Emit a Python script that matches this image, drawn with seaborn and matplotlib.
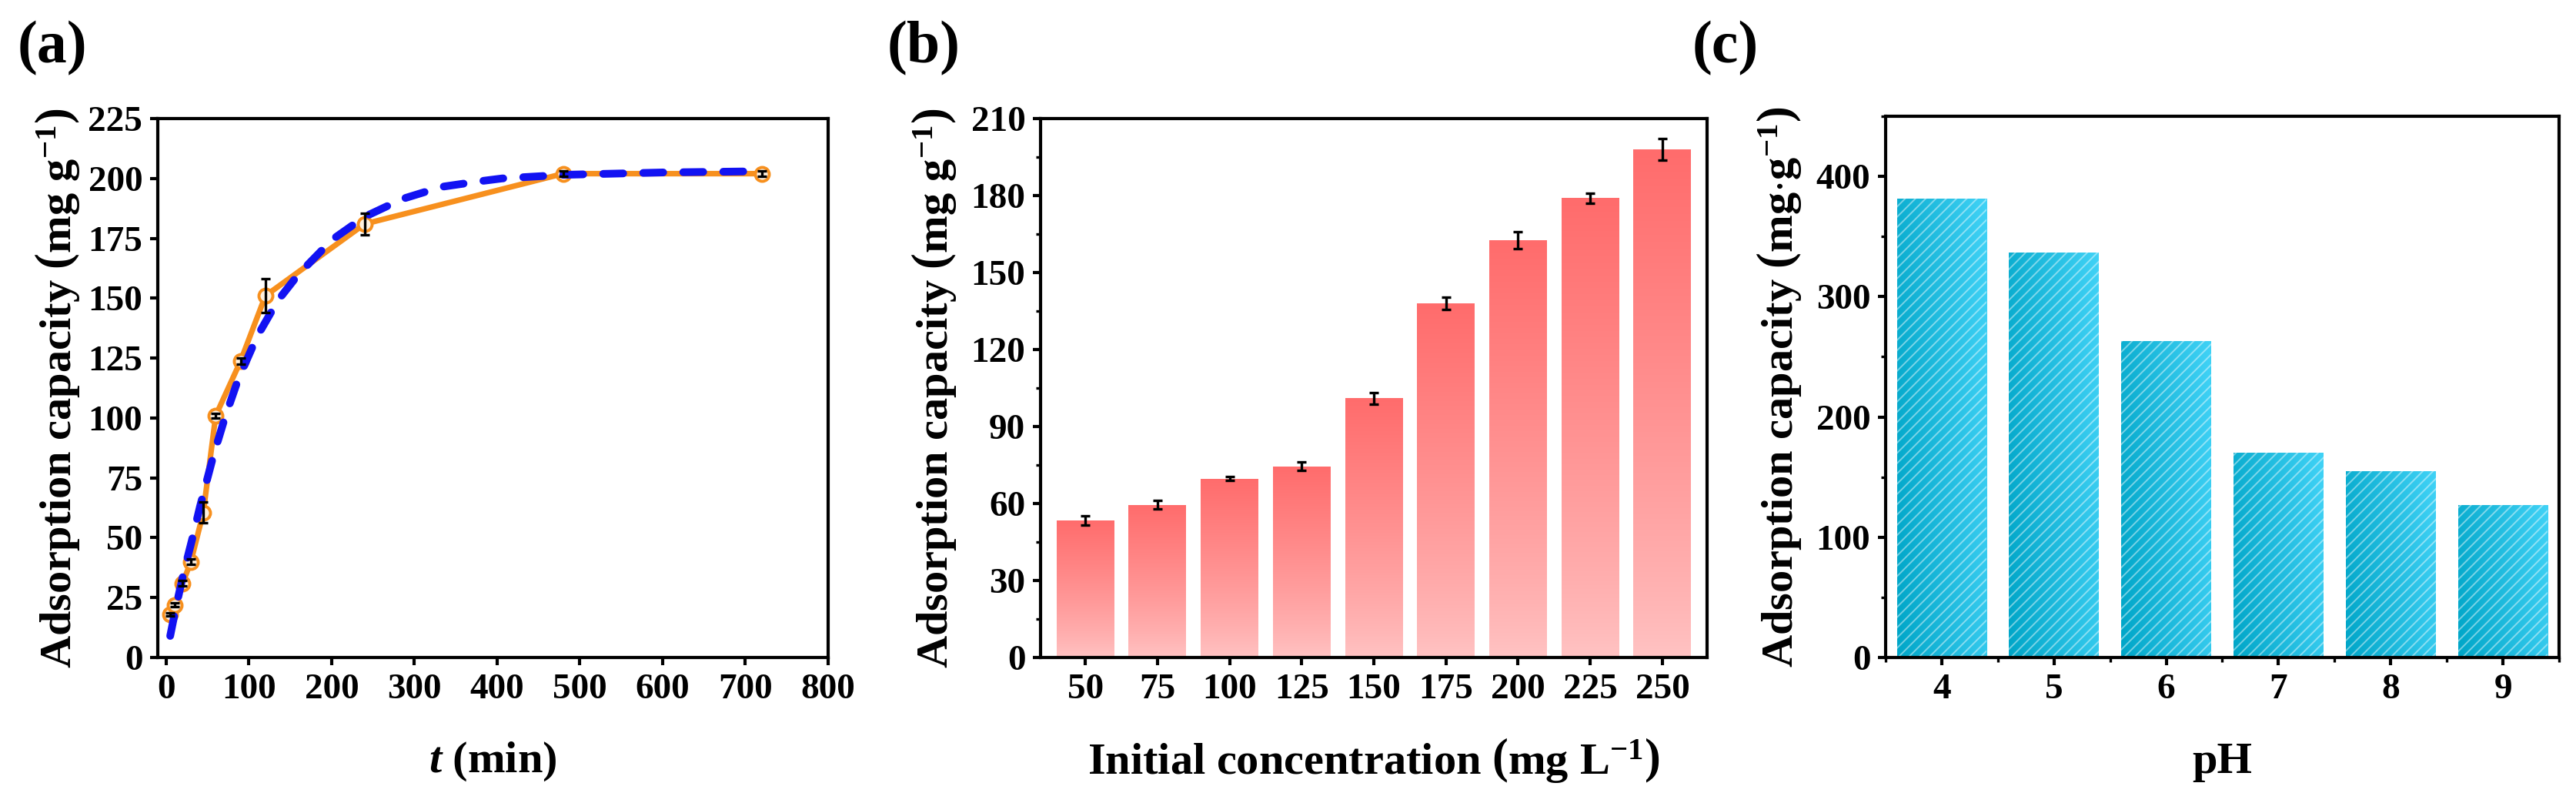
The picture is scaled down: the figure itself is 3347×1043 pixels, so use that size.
import numpy as np
import matplotlib
matplotlib.use("Agg")
import matplotlib.pyplot as plt
import seaborn as sns
from matplotlib.ticker import MultipleLocator, FixedLocator

# ---------------- data ----------------
# (a) kinetics
time_min = [5, 10, 20, 30, 45, 60, 90, 120, 240, 480, 720]
q_exp = [18, 22, 31, 40, 60.5, 101, 123.7, 151, 181, 202, 202]
q_err = [0.8, 0.8, 1.0, 1.0, 4.3, 1.0, 1.2, 7.0, 4.5, 1.0, 1.0]
fit_time = [5, 12, 21, 32, 41, 57, 71, 87, 110, 135, 160, 201, 240, 286, 333, 383, 406, 480, 600, 720]
fit_q = [9, 21, 35, 50, 63, 84, 100, 116, 134, 149, 160, 174.5, 184, 191.5, 196.5, 199, 200, 201.5, 202.5, 203]

# (b) initial concentration
conc_labels = ["50", "75", "100", "125", "150", "175", "200", "225", "250"]
q_conc = [53.5, 59.5, 69.7, 74.5, 101, 138, 162.6, 179, 198]
q_conc_err = [1.8, 1.7, 0.8, 1.7, 2.2, 2.4, 3.2, 2.0, 4.3]

# (c) pH
ph_labels = ["4", "5", "6", "7", "8", "9"]
q_ph = [381.5, 337, 263, 170, 155, 127]

# ---------------- style ----------------
sns.set_theme(style="ticks")
plt.rcParams.update({
    "font.family": ["Liberation Serif", "DejaVu Serif"],
    "font.weight": "bold",
    "axes.labelweight": "bold",
    "text.color": "black",
    "axes.labelcolor": "black",
    "mathtext.fontset": "custom",
    "mathtext.rm": "Liberation Serif",
    "mathtext.it": "Liberation Serif:italic",
    "mathtext.bf": "Liberation Serif:bold",
    "axes.linewidth": 1.5,
    "axes.edgecolor": "black",
    "xtick.color": "black",
    "ytick.color": "black",
    "xtick.labelcolor": "black",
    "ytick.labelcolor": "black",
    "xtick.direction": "out",
    "ytick.direction": "out",
    "xtick.major.size": 3.6,
    "ytick.major.size": 3.6,
    "xtick.major.width": 1.5,
    "ytick.major.width": 1.5,
    "xtick.minor.size": 2.2,
    "ytick.minor.size": 2.2,
    "xtick.minor.width": 1.2,
    "ytick.minor.width": 1.2,
    "xtick.major.pad": 4,
    "ytick.major.pad": 3.5,
    "hatch.linewidth": 0.7,
})
try:
    plt.rcParams["mathtext.bfit"] = "Liberation Serif:italic:bold"
except KeyError:
    pass

TICK_FS = 17
LABEL_FS = 21

fig = plt.figure(figsize=(16.74, 5.215), dpi=200)
H = 1043.0
W = 3348.0
bot = 1 - 854 / H
ax_a = fig.add_axes([205 / W, bot, (1076 - 205) / W, (854 - 154) / H])
ax_b = fig.add_axes([1352 / W, bot, (2218 - 1352) / W, (854 - 154) / H])
ax_c = fig.add_axes([2450 / W, bot, (3325 - 2450) / W, (854 - 151) / H])

for ax in (ax_a, ax_b, ax_c):
    for s in ax.spines.values():
        s.set_visible(True)
        s.set_linewidth(1.5)
        s.set_color("black")

# ---------------- (a) ----------------
orange = "#F7901E"
sns.lineplot(x=time_min, y=q_exp, ax=ax_a, color=orange, lw=2.6, marker="o",
             markersize=6.5, markerfacecolor="#FFF1E0", markeredgecolor=orange,
             markeredgewidth=1.4, zorder=2)
sns.lineplot(x=fit_time, y=fit_q, ax=ax_a, color="#1212F2", lw=3.6, zorder=3)
blue_line = ax_a.lines[-1]
blue_line.set_dashes((2.6, 2.6))
blue_line.set_dash_capstyle("round")
ax_a.errorbar(time_min, q_exp, yerr=q_err, fmt="none", ecolor="black",
              elinewidth=1.2, capsize=2.2, capthick=1.2, zorder=4)
ax_a.set_xlim(-10, 800)
ax_a.set_ylim(0, 225)
ax_a.xaxis.set_major_locator(MultipleLocator(100))
ax_a.yaxis.set_major_locator(MultipleLocator(25))
ax_a.set_xlabel(r"$\mathbfit{t}$ (min)", fontsize=LABEL_FS, labelpad=16)
ax_a.set_ylabel(r"Adsorption capacity $\left(\mathbf{mg\ g}^{\mathrm{-1}}\right)$",
                fontsize=LABEL_FS, labelpad=3)

# ---------------- (b) ----------------
sns.barplot(x=conc_labels, y=q_conc, ax=ax_b, width=0.8, color="#FF7070",
            saturation=1, errorbar=None, zorder=1)
grad_b = np.zeros((256, 1, 4))
tt = np.linspace(0, 1, 256) ** 0.8  # 0 at bottom -> 1 at top
top_col = np.array([255, 108, 108]) / 255
bot_col = np.array([255, 196, 196]) / 255
grad_b[:, 0, :3] = bot_col[None, :] * (1 - tt[:, None]) + top_col[None, :] * tt[:, None]
grad_b[:, 0, 3] = 1
for p in list(ax_b.patches):
    x0, y0, w, h = p.get_x(), p.get_y(), p.get_width(), p.get_height()
    im = ax_b.imshow(grad_b, extent=[x0, x0 + w, y0, y0 + h], origin="lower",
                     aspect="auto", interpolation="bilinear", zorder=1)
    im.set_clip_path(p)
    p.set_facecolor("none")
    p.set_edgecolor("none")
ax_b.errorbar(np.arange(len(q_conc)), q_conc, yerr=q_conc_err, fmt="none",
              ecolor="black", elinewidth=1.2, capsize=2.2, capthick=1.2, zorder=4)
ax_b.set_xlim(-0.62, len(q_conc) - 1 + 0.62)
ax_b.set_ylim(0, 210)
ax_b.yaxis.set_major_locator(MultipleLocator(30))
ax_b.yaxis.set_minor_locator(MultipleLocator(15))
ax_b.set_xlabel(r"Initial concentration $\left(\mathbf{mg\ L}^{\mathrm{-1}}\right)$",
                fontsize=LABEL_FS, labelpad=14)
ax_b.set_ylabel(r"Adsorption capacity $\left(\mathbf{mg\ g}^{\mathrm{-1}}\right)$",
                fontsize=LABEL_FS, labelpad=6)

# ---------------- (c) ----------------
sns.barplot(x=ph_labels, y=q_ph, ax=ax_c, width=0.8, color="#1AB8DC",
            saturation=1, errorbar=None, zorder=1)
n = 64
gx, gy = np.meshgrid(np.linspace(0, 1, n), np.linspace(0, 1, n))
s = np.clip(0.8 * gx + 0.2 * gy, 0, 1)
dark = np.array([0, 166, 200]) / 255
light = np.array([64, 210, 246]) / 255
grad_c = np.ones((n, n, 4))
grad_c[..., :3] = dark * (1 - s[..., None]) + light * s[..., None]
for p in list(ax_c.patches):
    x0, y0, w, h = p.get_x(), p.get_y(), p.get_width(), p.get_height()
    im = ax_c.imshow(grad_c, extent=[x0, x0 + w, y0, y0 + h], origin="lower",
                     aspect="auto", interpolation="bilinear", zorder=1)
    im.set_clip_path(p)
    p.set_facecolor("none")
    p.set_edgecolor((1, 1, 1, 0.45))
    p.set_linewidth(0)
    p.set_hatch("/////")
    p.set_zorder(2)
ax_c.set_xlim(-0.5, len(q_ph) - 0.5)
ax_c.set_ylim(0, 450)
ax_c.yaxis.set_major_locator(MultipleLocator(100))
ax_c.yaxis.set_minor_locator(MultipleLocator(50))
ax_c.xaxis.set_minor_locator(FixedLocator(np.arange(-0.5, len(q_ph), 1.0)))
ax_c.set_xlabel("pH", fontsize=LABEL_FS, labelpad=17)
ax_c.set_ylabel(r"Adsorption capacity $\left(\mathbf{mg{\cdot}g}^{\mathrm{-1}}\right)$",
                fontsize=LABEL_FS, labelpad=6)

for ax in (ax_a, ax_b, ax_c):
    ax.tick_params(which="both", top=False, right=False, labelsize=TICK_FS,
                   colors="black", labelcolor="black")
    for lab in ax.get_xticklabels() + ax.get_yticklabels():
        lab.set_fontweight("bold")
        lab.set_color("black")

# panel labels
for xpos, lab in [(23 / W, "(a)"), (1153 / W, "(b)"), (2199 / W, "(c)")]:
    fig.text(xpos, 1 - 63 / H, lab, fontsize=28, fontweight="bold",
             ha="left", va="center", color="black")

fig.savefig("out.png", dpi=200)
